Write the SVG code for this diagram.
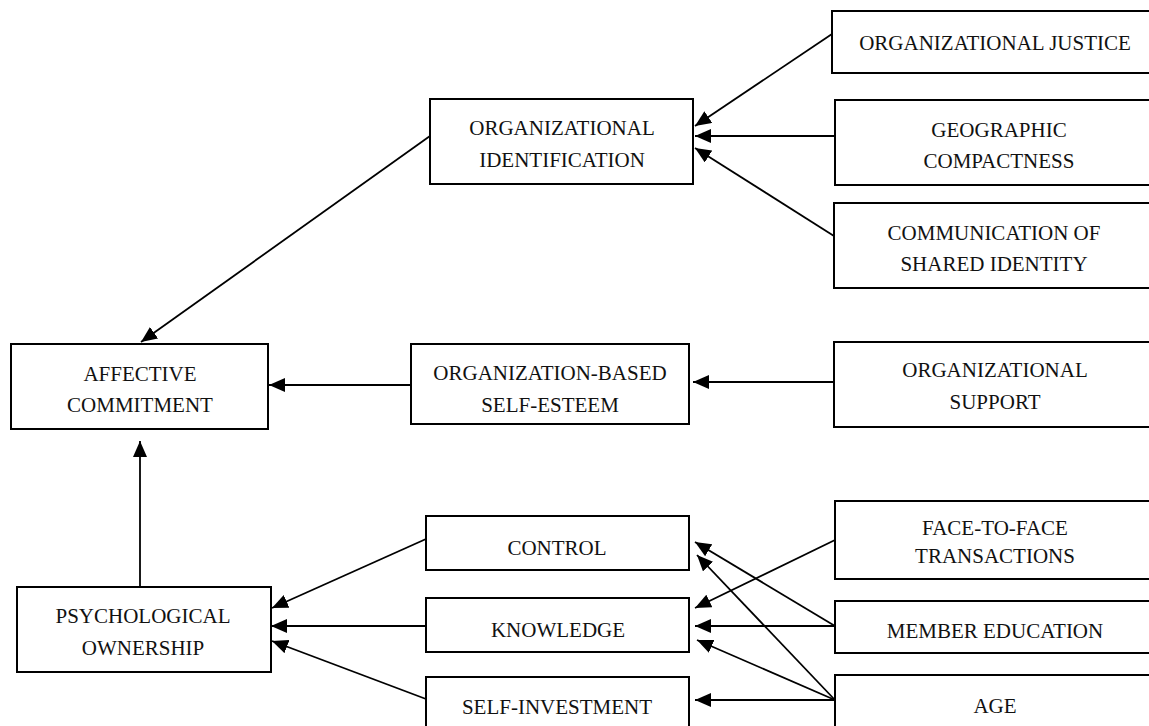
<svg xmlns="http://www.w3.org/2000/svg" width="1149" height="726" viewBox="0 0 1149 726">
<style>
.box{fill:#fff;stroke:#000;stroke-width:2}
.t{font-family:'Liberation Serif','Times New Roman',Tinos,'DejaVu Serif',serif;font-size:21px;fill:#111;text-anchor:middle}
.c{stroke:#000;stroke-width:1.8;fill:none;marker-end:url(#ah)}
</style>
<defs>
<marker id="ah" markerUnits="userSpaceOnUse" markerWidth="18" markerHeight="14" refX="16" refY="7" orient="auto">
<path d="M0,0 L16,7 L0,14 Z" fill="#000"/>
</marker>
</defs>
<rect width="1149" height="726" fill="#fff"/>
<g id="connectors">
<line class="c" x1="430" y1="136" x2="141" y2="342"/>
<line class="c" x1="832" y1="34" x2="695" y2="126"/>
<line class="c" x1="835" y1="136" x2="695" y2="136"/>
<line class="c" x1="834" y1="236" x2="695" y2="148"/>
<line class="c" x1="411" y1="385" x2="269" y2="385"/>
<line class="c" x1="834" y1="382" x2="693" y2="382"/>
<line class="c" x1="140" y1="587" x2="140" y2="441"/>
<line class="c" x1="426" y1="539" x2="272" y2="608"/>
<line class="c" x1="426" y1="626" x2="271" y2="626"/>
<line class="c" x1="426" y1="699" x2="272" y2="641"/>
<line class="c" x1="835" y1="540" x2="695" y2="608"/>
<line class="c" x1="835" y1="626" x2="695" y2="542"/>
<line class="c" x1="835" y1="626" x2="695" y2="626"/>
<line class="c" x1="835" y1="700" x2="697" y2="555"/>
<line class="c" x1="835" y1="700" x2="697" y2="640"/>
<line class="c" x1="835" y1="700" x2="695" y2="700"/>
</g>
<g id="justice"><rect class="box" x="832" y="11" width="330" height="62"/><text class="t" x="995" y="50">ORGANIZATIONAL JUSTICE</text></g>
<g id="geographic"><rect class="box" x="835" y="100" width="330" height="85"/><text class="t" x="999" y="137">GEOGRAPHIC</text><text class="t" x="999" y="168">COMPACTNESS</text></g>
<g id="communication"><rect class="box" x="834" y="203" width="330" height="85"/><text class="t" x="994" y="240">COMMUNICATION OF</text><text class="t" x="994" y="271">SHARED IDENTITY</text></g>
<g id="orgid"><rect class="box" x="430" y="99" width="263" height="85"/><text class="t" x="562" y="135">ORGANIZATIONAL</text><text class="t" x="562" y="167">IDENTIFICATION</text></g>
<g id="affective"><rect class="box" x="11" y="344" width="257" height="85"/><text class="t" x="140" y="381">AFFECTIVE</text><text class="t" x="140" y="412">COMMITMENT</text></g>
<g id="obse"><rect class="box" x="411" y="344" width="278" height="80"/><text class="t" x="550" y="380">ORGANIZATION-BASED</text><text class="t" x="550" y="412">SELF-ESTEEM</text></g>
<g id="support"><rect class="box" x="834" y="342" width="330" height="85"/><text class="t" x="995" y="377">ORGANIZATIONAL</text><text class="t" x="995" y="409">SUPPORT</text></g>
<g id="psych"><rect class="box" x="17" y="587" width="254" height="85"/><text class="t" x="143" y="623">PSYCHOLOGICAL</text><text class="t" x="143" y="655">OWNERSHIP</text></g>
<g id="control"><rect class="box" x="426" y="516" width="263" height="54"/><text class="t" x="557" y="555">CONTROL</text></g>
<g id="knowledge"><rect class="box" x="426" y="598" width="263" height="54"/><text class="t" x="558" y="637">KNOWLEDGE</text></g>
<g id="selfinv"><rect class="box" x="426" y="677" width="263" height="60"/><text class="t" x="557" y="714">SELF-INVESTMENT</text></g>
<g id="facetoface"><rect class="box" x="835" y="501" width="330" height="78"/><text class="t" x="995" y="535">FACE-TO-FACE</text><text class="t" x="995" y="563">TRANSACTIONS</text></g>
<g id="membered"><rect class="box" x="835" y="601" width="330" height="52"/><text class="t" x="995" y="638">MEMBER EDUCATION</text></g>
<g id="age"><rect class="box" x="835" y="675" width="330" height="62"/><text class="t" x="995" y="713">AGE</text></g>
</svg>
